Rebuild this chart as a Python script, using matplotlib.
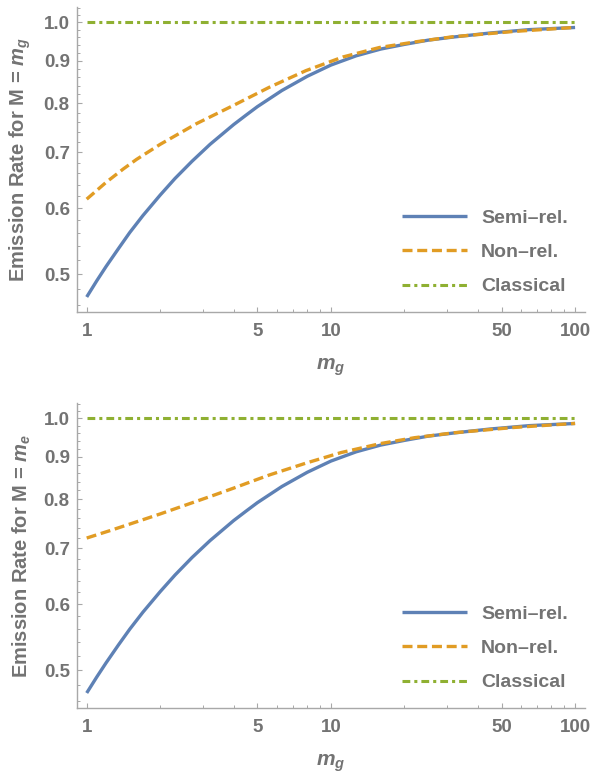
import matplotlib
matplotlib.use("Agg")
import matplotlib.pyplot as plt
from matplotlib.ticker import FixedLocator, NullFormatter, FixedFormatter

plt.rcParams['font.family'] = ['Liberation Sans', 'DejaVu Sans']
plt.rcParams['font.weight'] = 'bold'
plt.rcParams['mathtext.fontset'] = 'custom'
plt.rcParams['mathtext.it'] = 'Liberation Sans:italic:bold'
plt.rcParams['mathtext.rm'] = 'Liberation Sans:bold'
plt.rcParams['lines.scale_dashes'] = False

# ---------------- data ----------------
x_semi_top = [1, 1.1, 1.2, 1.35, 1.5, 1.7, 2, 2.3, 2.7, 3.2, 4, 4.5, 5, 6.3, 8, 10,
              12.7, 16, 20, 25, 32, 45, 65, 100]
semi_top = [0.470, 0.4915, 0.511, 0.537, 0.561, 0.588, 0.622, 0.651, 0.6825, 0.715,
            0.755, 0.775, 0.793, 0.829, 0.862, 0.889, 0.912, 0.929, 0.941, 0.952,
            0.9605, 0.971, 0.980, 0.9858]

x_non_top = [1, 1.2, 1.41, 1.6, 2, 2.82, 4, 5.6, 7.9, 11.2, 15.8, 22.4, 31.6, 56, 100]
non_top = [0.615, 0.644, 0.668, 0.686, 0.715, 0.757, 0.796, 0.8365, 0.8755, 0.909,
           0.933, 0.948, 0.961, 0.975, 0.986]

x_semi_bot = [1, 1.1, 1.2, 1.35, 1.5, 1.7, 2, 2.3, 2.7, 3.2, 4, 4.5, 5, 6.3, 8, 10,
              12.7, 16, 20, 25, 32, 45, 65, 100]
semi_bot = [0.470, 0.4912, 0.5105, 0.5365, 0.560, 0.587, 0.621, 0.650, 0.682, 0.7145,
            0.755, 0.775, 0.793, 0.829, 0.862, 0.889, 0.912, 0.929, 0.941, 0.952,
            0.9605, 0.971, 0.980, 0.9858]

x_non_bot = [1, 1.25, 1.6, 2, 3.3, 4, 5, 5.6, 6.2, 8, 11, 16, 22, 32, 56, 100]
non_bot = [0.7195, 0.7346, 0.7523, 0.7688, 0.809, 0.8254, 0.8455, 0.8557, 0.864, 0.885,
           0.910, 0.933, 0.948, 0.961, 0.975, 0.986]

x_classical = [1, 100]
classical = [1.0, 1.0]

x_ticks = [1, 5, 10, 50, 100]
x_ticklabels = ["1", "5", "10", "50", "100"]
x_minor = [2, 3, 4, 6, 7, 8, 9, 20, 30, 40, 60, 70, 80, 90]
y_ticks = [0.5, 0.6, 0.7, 0.8, 0.9, 1.0]
y_ticklabels = ["0.5", "0.6", "0.7", "0.8", "0.9", "1.0"]
y_minor = [0.46, 0.48, 0.52, 0.54, 0.56, 0.58, 0.62, 0.64, 0.66, 0.68, 0.72, 0.74,
           0.76, 0.78, 0.82, 0.84, 0.86, 0.88, 0.92, 0.94, 0.96, 0.98, 1.02, 1.04]

labels = ["Semi\u2013rel.", "Non\u2013rel.", "Classical"]
ylabels = [r"Emission Rate for M = $m_g$", r"Emission Rate for M = $m_e$"]
xlabel = r"$m_g$"

BLUE = "#5e81b5"
ORANGE = "#e19c24"
GREEN = "#8fb032"
TXT = "#737373"
AX = "#a8a8a8"

W, H = 605, 774
fig = plt.figure(figsize=(W / 100, H / 100), dpi=100)

def ax_rect(left_px, right_px, top_px, bot_px):
    return [left_px / W, 1 - bot_px / H, (right_px - left_px) / W, (bot_px - top_px) / H]

panels = [
    (ax_rect(76.7, 585, 7.3, 312), x_semi_top, semi_top, x_non_top, non_top, ylabels[0]),
    (ax_rect(76.7, 585, 403.3, 708), x_semi_bot, semi_bot, x_non_bot, non_bot, ylabels[1]),
]

for rect, xs, ys, xn, yn, ylab in panels:
    ax = fig.add_axes(rect)
    ax.set_xscale('log')
    ax.set_yscale('log')
    ax.set_xlim(0.910, 109.8)
    ax.set_ylim(0.451, 1.042)

    ax.plot(xs, ys, color=BLUE, lw=2.4, solid_capstyle='butt', solid_joinstyle='round',
            label=labels[0], zorder=3)
    ax.plot(xn, yn, color=ORANGE, lw=2.4, dashes=(7.2, 3.4), dash_capstyle='butt',
            label=labels[1], zorder=4)
    ax.plot(x_classical, classical, color=GREEN, lw=2.2, dashes=(5.6, 2.9, 2.2, 2.9),
            dash_capstyle='butt', label=labels[2], zorder=2)

    for s in ['top', 'right']:
        ax.spines[s].set_visible(False)
    for s in ['left', 'bottom']:
        ax.spines[s].set_color(AX)
        ax.spines[s].set_linewidth(1.0)

    ax.xaxis.set_major_locator(FixedLocator(x_ticks))
    ax.xaxis.set_major_formatter(FixedFormatter(x_ticklabels))
    ax.xaxis.set_minor_locator(FixedLocator(x_minor))
    ax.xaxis.set_minor_formatter(NullFormatter())
    ax.yaxis.set_major_locator(FixedLocator(y_ticks))
    ax.yaxis.set_major_formatter(FixedFormatter(y_ticklabels))
    ax.yaxis.set_minor_locator(FixedLocator(y_minor))
    ax.yaxis.set_minor_formatter(NullFormatter())

    ax.tick_params(which='major', direction='in', length=3.4, width=0.8, color=AX,
                   labelcolor=TXT, labelsize=13.5)
    ax.tick_params(which='minor', direction='in', length=2.0, width=0.7, color=AX)
    ax.tick_params(axis='x', which='major', pad=8)
    ax.tick_params(axis='y', which='major', pad=5)
    for t in ax.get_xticklabels() + ax.get_yticklabels():
        t.set_fontweight('bold')

    ax.set_ylabel(ylab, color=TXT, fontsize=14.5, fontweight='bold')
    ax.yaxis.set_label_coords(-0.086, 0.5)
    ax.set_xlabel(xlabel, color=TXT, fontsize=15)
    ax.xaxis.set_label_coords(0.5, -0.145)

    leg = ax.legend(loc='center left', bbox_to_anchor=(0.6394, 0.1959), frameon=False,
                    fontsize=14, handlelength=3.34, handletextpad=0.74, labelspacing=0.86,
                    borderpad=0, borderaxespad=0)
    for t in leg.get_texts():
        t.set_color(TXT)
        t.set_fontweight('bold')

fig.savefig("out.png", dpi=100)
